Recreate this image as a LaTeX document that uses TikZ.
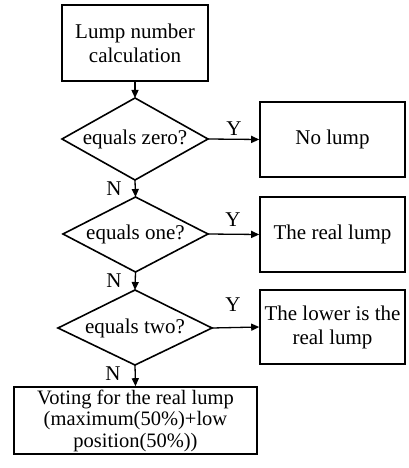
\documentclass[tikz,border=0pt]{standalone}
\usepackage{fontspec}
\setmainfont{Liberation Serif}
\usetikzlibrary{arrows.meta}
\begin{document}
\begin{tikzpicture}[x=1bp,y=-1bp,
  every node/.style={font=\fontsize{21bp}{24bp}\selectfont},
  boxnode/.style={draw,line width=1.6bp,inner sep=0pt,align=center},
  txt/.style={inner sep=0pt,align=center},
  lbl/.style={inner sep=0pt},
  edge/.style={line width=1.3bp,-{Triangle[length=8bp,width=7bp]}},
  dline/.style={line width=1.6bp,line join=miter}]
\useasboundingbox (0,0) rectangle (408,468);
% box 1
\node[boxnode,minimum width=146bp,minimum height=76bp] (b1) at (135,43) {Lump number\\calculation};
% diamond 1
\node[txt] (d1) at (135,139) {equals zero?};
\coordinate (d1t) at (135,98); \coordinate (d1b) at (135,180);
\coordinate (d1l) at (62,139); \coordinate (d1r) at (208,139);
\draw[dline] (d1t) -- (d1r) -- (d1b) -- (d1l) -- cycle;
\node[boxnode,minimum width=145bp,minimum height=75bp] (r1) at (332.5,139.5) {No lump};
% diamond 2
\node[txt] (d2) at (135.5,234) {equals one?};
\coordinate (d2t) at (135.5,197); \coordinate (d2b) at (135.5,272);
\coordinate (d2l) at (63,234); \coordinate (d2r) at (208,234);
\draw[dline] (d2t) -- (d2r) -- (d2b) -- (d2l) -- cycle;
\node[boxnode,minimum width=145bp,minimum height=75bp] (r2) at (332.5,234.5) {The real lump};
% diamond 3
\node[txt] (d3) at (135,328) {equals two?};
\coordinate (d3t) at (135,290); \coordinate (d3b) at (135,365);
\coordinate (d3l) at (58,328); \coordinate (d3r) at (212,328);
\draw[dline] (d3t) -- (d3r) -- (d3b) -- (d3l) -- cycle;
\node[boxnode,minimum width=145bp,minimum height=74bp] (r3) at (332.5,327) {The lower is the\\real lump};
% last box
\node[boxnode,minimum width=243bp,minimum height=67bp,font=\fontsize{20.5bp}{21.5bp}\selectfont] (b4) at (135.5,420.5) {Voting for the real lump\\(maximum(50\%)+low\\position(50\%))};
% connectors
\draw[edge] (b1.south) -- (d1t);
\draw[edge] (d1r) -- (r1.west);
\draw[edge] (d1b) -- (d2t);
\draw[edge] (d2r) -- (r2.west);
\draw[edge] (d2b) -- (d3t);
\draw[edge] (d3r) -- (r3.west);
\draw[edge] (d3b) -- (b4.north);
% labels
\node[lbl] (y1) at (234,129) {Y};
\node[lbl] (n1) at (114,189) {N};
\node[lbl] (y2) at (233,220) {Y};
\node[lbl] (n2) at (114,281) {N};
\node[lbl] (y3) at (233,305) {Y};
\node[lbl] (n3) at (113,374) {N};
\end{tikzpicture}
\end{document}
